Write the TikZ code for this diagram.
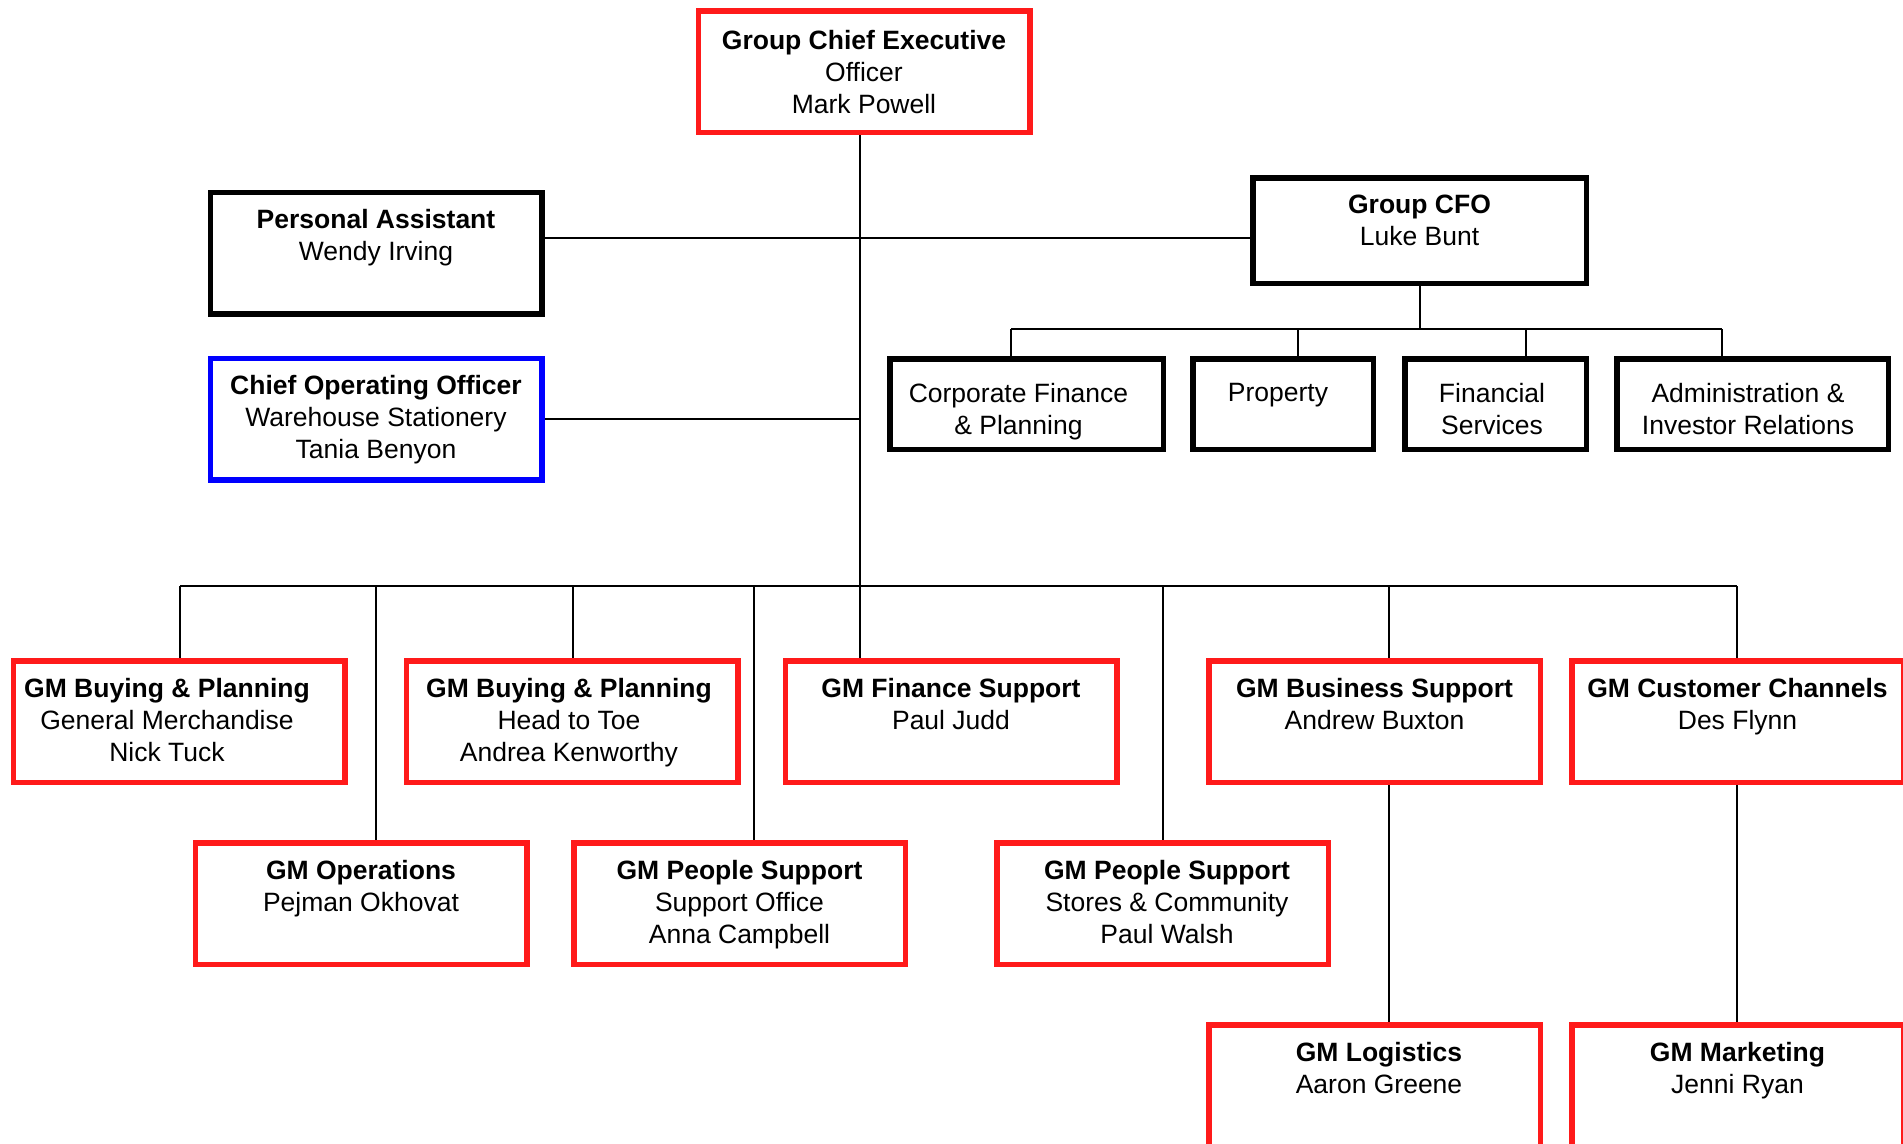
\documentclass[tikz,border=0pt]{standalone}
\usepackage{fontspec}
\setmainfont{Liberation Sans}
\definecolor{boxred}{RGB}{255,26,26}
\definecolor{boxblue}{RGB}{0,0,255}
\tikzset{
  card/.style={draw, line width=5.5pt, inner sep=0pt, minimum width=331.5pt, minimum height=121.5pt},
  redcard/.style={card, draw=boxred},
  blackcard/.style={card, draw=black},
  bluecard/.style={card, draw=boxblue},
  unitcard/.style={blackcard, minimum height=90.5pt},
  caption/.style={anchor=north, align=center, inner sep=0pt, font=\fontsize{26.5}{32}\selectfont},
  wire/.style={draw=black, line width=1.8pt},
}
\begin{document}
\begin{tikzpicture}[x=1pt, y=-1pt]
\path[use as bounding box] (0,0) rectangle (1903,1143);
\clip (0,0) rectangle (1903,1143);

% ---- boxes ----
\node[redcard]   (gce)   at (864,71.5) {};
\node[blackcard] (pa)    at (376,253) {};
\node[bluecard]  (coo)   at (376,419) {};
\node[blackcard, minimum width=333.5pt, minimum height=105.5pt] (cfo) at (1419.5,230.5) {};
\node[unitcard, minimum width=273.5pt] (corpfin) at (1026.5,404) {};
\node[unitcard, minimum width=180.5pt] (prop)    at (1283,404) {};
\node[unitcard, minimum width=181.5pt] (finsvc)  at (1495.5,404) {};
\node[unitcard, minimum width=271.5pt] (admin)   at (1752.5,404) {};

\node[redcard] (gmbpgm)  at (179,721.5) {};
\node[redcard] (gmbpht)  at (572,721.5) {};
\node[redcard] (gmfs)    at (951,721.5) {};
\node[redcard] (gmbs)    at (1374.5,721.5) {};
\node[redcard] (gmcc)    at (1737.5,721.5) {};
\node[redcard] (gmops)   at (361,903.5) {};
\node[redcard] (gmpsso)  at (739.5,903.5) {};
\node[redcard] (gmpssc)  at (1162.5,903.5) {};
\node[redcard] (gmlog)   at (1374.5,1085.5) {};
\node[redcard] (gmmkt)   at (1737.5,1085.5) {};

% ---- captions ----
\node[caption] (gce-t) at ([yshift=-22pt]gce.north) {\textbf{Group Chief Executive}\\Officer\\Mark Powell};
\node[caption] (pa-t)  at ([yshift=-20pt]pa.north) {\textbf{Personal Assistant}\\Wendy Irving};
\node[caption] (coo-t) at ([yshift=-20pt]coo.north) {\textbf{Chief Operating Officer}\\Warehouse Stationery\\Tania Benyon};
\node[caption] (cfo-t) at ([yshift=-20pt]cfo.north) {\textbf{Group CFO}\\Luke Bunt};
\node[caption] (corpfin-t) at ([xshift=-8pt,yshift=-27.5pt]corpfin.north) {Corporate Finance\\\& Planning};
\node[caption] (prop-t)    at ([xshift=-5pt,yshift=-27.5pt]prop.north) {Property};
\node[caption] (finsvc-t)  at ([xshift=-3.5pt,yshift=-27.5pt]finsvc.north) {Financial\\Services};
\node[caption] (admin-t)   at ([xshift=-4.5pt,yshift=-27.5pt]admin.north) {Administration \&\\Investor Relations};

\node[caption] (gmbpgm-t) at ([xshift=-12pt,yshift=-20.5pt]gmbpgm.north) {\textbf{GM Buying \& Planning}\\General Merchandise\\Nick Tuck};
\node[caption] (gmbpht-t) at ([xshift=-3pt,yshift=-20.5pt]gmbpht.north) {\textbf{GM Buying \& Planning}\\Head to Toe\\Andrea Kenworthy};
\node[caption] (gmfs-t)   at ([yshift=-20.5pt]gmfs.north) {\textbf{GM Finance Support}\\Paul Judd};
\node[caption] (gmbs-t)   at ([yshift=-20.5pt]gmbs.north) {\textbf{GM Business Support}\\Andrew Buxton};
\node[caption] (gmcc-t)   at ([yshift=-20.5pt]gmcc.north) {\textbf{GM Customer Channels}\\Des Flynn};
\node[caption] (gmops-t)  at ([yshift=-20.5pt]gmops.north) {\textbf{GM Operations}\\Pejman Okhovat};
\node[caption] (gmpsso-t) at ([yshift=-20.5pt]gmpsso.north) {\textbf{GM People Support}\\Support Office\\Anna Campbell};
\node[caption] (gmpssc-t) at ([xshift=4.5pt,yshift=-20.5pt]gmpssc.north) {\textbf{GM People Support}\\Stores \& Community\\Paul Walsh};
\node[caption] (gmlog-t)  at ([xshift=4.5pt,yshift=-20.5pt]gmlog.north) {\textbf{GM Logistics}\\Aaron Greene};
\node[caption] (gmmkt-t)  at ([yshift=-20.5pt]gmmkt.north) {\textbf{GM Marketing}\\Jenni Ryan};

% ---- junction points ----
\coordinate (trunk)  at (860,586);
\coordinate (pajoin) at (860,238);
\coordinate (cfobus) at (1420,329);
\coordinate (d-cf)   at (1011,329);
\coordinate (d-pr)   at (1298,329);
\coordinate (d-fs)   at (1526,329);
\coordinate (d-ad)   at (1722,329);
\coordinate (b-gm)   at (180,586);
\coordinate (b-ops)  at (376,586);
\coordinate (b-ht)   at (573,586);
\coordinate (b-pso)  at (754,586);
\coordinate (b-psc)  at (1163,586);
\coordinate (b-bs)   at (1389,586);
\coordinate (b-cc)   at (1737,586);

% ---- connectors ----
\draw[wire] (gce.south -| trunk) -- (trunk);
\draw[wire] (pa.east |- pajoin) -- (cfo.west |- pajoin);
\draw[wire] (coo.east) -- (coo.east -| trunk);
\draw[wire] (cfo.south -| cfobus) -- (cfobus);
\draw[wire] (d-cf) -- (d-ad);
\draw[wire] (d-cf) -- (d-cf |- corpfin.north);
\draw[wire] (d-pr) -- (d-pr |- prop.north);
\draw[wire] (d-fs) -- (d-fs |- finsvc.north);
\draw[wire] (d-ad) -- (d-ad |- admin.north);

\draw[wire] (b-gm) -- (b-cc);
\draw[wire] (b-gm)  -- (b-gm |- gmbpgm.north);
\draw[wire] (b-ops) -- (b-ops |- gmops.north);
\draw[wire] (b-ht)  -- (b-ht |- gmbpht.north);
\draw[wire] (b-pso) -- (b-pso |- gmpsso.north);
\draw[wire] (trunk) -- (trunk |- gmfs.north);
\draw[wire] (b-psc) -- (b-psc |- gmpssc.north);
\draw[wire] (b-bs)  -- (b-bs |- gmbs.north);
\draw[wire] (b-cc)  -- (b-cc |- gmcc.north);
\draw[wire] (gmbs.south -| b-bs) -- (gmlog.north -| b-bs);
\draw[wire] (gmcc.south -| b-cc) -- (gmmkt.north -| b-cc);
\end{tikzpicture}
\end{document}
